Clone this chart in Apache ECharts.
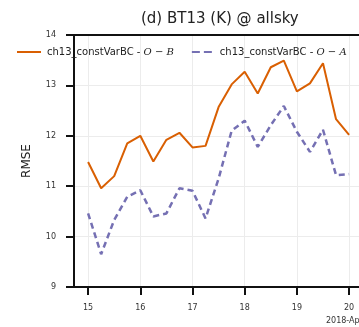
<!DOCTYPE html>
<html>
<head>
<meta charset="utf-8">
<script src="https://cdn.jsdelivr.net/npm/echarts@6/dist/echarts.min.js"></script>
<style>
  html, body { margin: 0; padding: 0; background: #fff; }
  #chart { width: 359px; height: 327px; }
</style>
</head>
<body>
<div id="chart"></div>
<script>
// Apr 2018, one sample every 6 h (day of month)
const days = [15, 15.25, 15.5, 15.75, 16, 16.25, 16.5, 16.75, 17, 17.25, 17.5,
  17.75, 18, 18.25, 18.5, 18.75, 19, 19.25, 19.5, 19.75, 20]
const omb = [11.48, 10.96, 11.2, 11.85, 12.0, 11.49, 11.92, 12.06, 11.77, 11.8, 12.57,
  13.02, 13.27, 12.84, 13.36, 13.49, 12.88, 13.04, 13.44, 12.33, 12.02]
const oma = [10.46, 9.65, 10.33, 10.79, 10.92, 10.4, 10.46, 10.96, 10.91, 10.36, 11.15,
  12.1, 12.3, 11.78, 12.21, 12.59, 12.08, 11.68, 12.12, 11.22, 11.24]
const xTicks = [15, 16, 17, 18, 19, 20]
const seriesNames = ['ch13_constVarBC - O − B', 'ch13_constVarBC - O − A']

const INK = '#111'
const LABEL = '#333'
const SPLIT = '#ececec'
const ORANGE = '#d95f02'
const PURPLE = '#7570b3'

const chart = echarts.init(document.getElementById('chart'))

function pairs(ys) {
  return ys.map((y, i) => [days[i], y])
}

chart.setOption({
  animation: false,
  backgroundColor: '#fff',
  textStyle: { fontFamily: 'DejaVu Sans' },
  title: {
    text: '(d) BT13 (K) @ allsky',
    left: 136, top: 7,
    textStyle: { color: '#222', fontSize: 15, fontWeight: 'normal', fontFamily: 'DejaVu Sans' },
  },
  legend: {
    left: 12, top: 42,
    itemWidth: 24, itemHeight: 2, itemGap: 18,
    data: [
      { name: seriesNames[0], icon: 'rect', itemStyle: { color: ORANGE } },
      { name: seriesNames[1], icon: 'path://M0,0h8v2h-8zM12,0h8v2h-8z', itemStyle: { color: PURPLE } },
    ],
    formatter: (n) => n.replace(/O − ([AB])$/, '{i|O − $1}'),
    textStyle: {
      color: '#222', fontSize: 10, padding: [0, 0, 0, 1],
      rich: { i: { fontFamily: 'DejaVu Serif', fontStyle: 'italic', fontSize: 10, color: '#222' } },
    },
  },
  grid: { left: 74, right: 0, top: 35, bottom: 40 },
  xAxis: [{
    type: 'value',
    min: 14.73, max: 20.19,
    interval: 1,
    axisLine: { lineStyle: { color: INK, width: 2 } },
    axisTick: { length: 8, lineStyle: { color: INK, width: 2 }, customValues: xTicks },
    axisLabel: { color: LABEL, fontSize: 8, margin: 17, customValues: xTicks },
    splitLine: { show: true, lineStyle: { color: SPLIT, width: 1 } },
  }, {
    type: 'value', position: 'top',
    min: 14.73, max: 20.19,
    axisLine: { show: true, lineStyle: { color: INK, width: 2 } },
    axisTick: { show: false }, axisLabel: { show: false }, splitLine: { show: false },
  }],
  yAxis: {
    type: 'value',
    min: 9, max: 14, interval: 1,
    name: 'RMSE', nameLocation: 'middle', nameGap: 41,
    nameTextStyle: { color: '#222', fontSize: 12 },
    axisLine: { show: true, lineStyle: { color: INK, width: 2 } },
    axisTick: { show: true, length: 8, lineStyle: { color: INK, width: 2 } },
    axisLabel: { color: LABEL, fontSize: 8, margin: 18 },
    splitLine: { lineStyle: { color: SPLIT, width: 1 } },
  },
  graphic: [{
    type: 'text', left: 326, top: 317,
    style: { text: '2018-Apr', fill: LABEL, fontSize: 8, fontFamily: 'DejaVu Sans' },
  }],
  series: [{
    name: seriesNames[0], type: 'line', symbol: 'none',
    data: pairs(omb),
    lineStyle: { color: ORANGE, width: 2 },
    itemStyle: { color: ORANGE },
  }, {
    name: seriesNames[1], type: 'line', symbol: 'none',
    data: pairs(oma),
    lineStyle: { color: PURPLE, width: 2.5, type: [6, 4] },
    itemStyle: { color: PURPLE },
  }],
})
</script>
</body>
</html>
